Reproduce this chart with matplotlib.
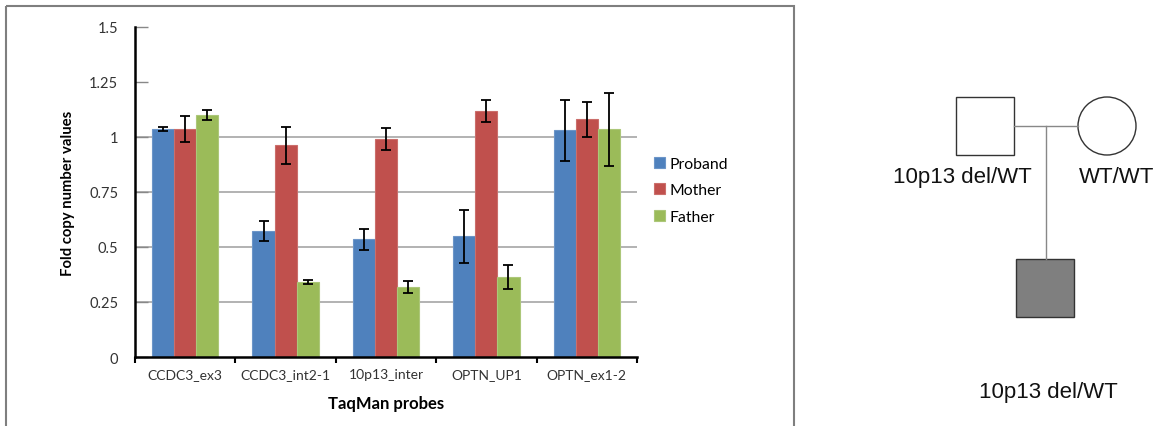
import numpy as np
import matplotlib
matplotlib.use('Agg')
import matplotlib.pyplot as plt
from matplotlib.patches import Rectangle, Circle

# valores
probes = ['CCDC3_ex3', 'CCDC3_int2-1', '10p13_inter', 'OPTN_UP1', 'OPTN_ex1-2']
series = ['Proband', 'Mother', 'Father']
proband = [1.036, 0.574, 0.535, 0.549, 1.030]
proband_err = [0.010, 0.045, 0.048, 0.120, 0.137]
mother = [1.036, 0.962, 0.990, 1.117, 1.080]
mother_err = [0.060, 0.085, 0.050, 0.050, 0.080]
father = [1.100, 0.340, 0.317, 0.364, 1.035]
father_err = [0.025, 0.010, 0.027, 0.054, 0.165]
yticks = [0, 0.25, 0.5, 0.75, 1, 1.25, 1.5]
ytick_labels = ['0', '0.25', '0.5', '0.75', '1', '1.25', '1.5']

colors = ['#4F81BD', '#C0504D', '#9BBB59']
edges = ['#6C95C8', '#CB6E6B', '#ACC779']

W, H = 1161, 427
fig = plt.figure(figsize=(W / 100, H / 100), dpi=100)

# camada de fundo em pixels: moldura e heredograma
bg = fig.add_axes([0, 0, 1, 1])
bg.set_xlim(0, W)
bg.set_ylim(H, 0)
bg.axis('off')
bg.add_patch(Rectangle((6, 7), 788, 440, fill=False, ec='#7F7F7F', lw=1.5))

ped_font = dict(family='Liberation Sans', fontsize=16, color='#111111')
bg.add_patch(Rectangle((956, 98), 58, 58, fc='white', ec='#333333', lw=1.0))
bg.add_patch(Circle((1107, 127), 29, fc='white', ec='#333333', lw=1.0))
bg.plot([1014, 1078], [127, 127], color='#888888', lw=1.0)
bg.plot([1046, 1046], [127, 260], color='#888888', lw=1.0)
bg.add_patch(Rectangle((1016, 260), 58, 58, fc='#7F7F7F', ec='#333333', lw=1.0))
bg.text(962, 178, '10p13 del/WT', ha='center', va='center', **ped_font)
bg.text(1117, 178, 'WT/WT', ha='center', va='center', **ped_font)
bg.text(1048, 393, '10p13 del/WT', ha='center', va='center', **ped_font)

# grafico de barras
ax = fig.add_axes([135 / W, 1 - 358 / H, 502 / W, 330 / H])
ax.patch.set_alpha(0)
x = np.arange(len(probes))
width = 0.22
vals = [proband, mother, father]
errs = [proband_err, mother_err, father_err]
for i, (v, e) in enumerate(zip(vals, errs)):
    ax.bar(x + (i - 1) * width, v, width, color=colors[i], edgecolor=edges[i],
           linewidth=0.8, label=series[i], zorder=2)
    ax.errorbar(x + (i - 1) * width, v, yerr=e, fmt='none', ecolor='black',
                elinewidth=1.3, capsize=3.5, capthick=1.3, zorder=3)

ax.set_xlim(-0.5, len(probes) - 0.5)
ax.set_ylim(0, 1.5)
ax.set_yticks(yticks)
ax.set_yticklabels(ytick_labels, family='Lato', fontsize=10.5, color='#333333')
ax.set_xticks(x)
ax.set_xticklabels(probes, family='Lato', fontsize=10, color='#333333')
ax.set_xticks(np.arange(-0.5, len(probes)), minor=True)
ax.tick_params(axis='x', which='major', length=0, pad=8)
ax.tick_params(axis='x', which='minor', direction='out', length=4, width=1.5)
ax.tick_params(axis='y', direction='in', length=9, width=1.0, color='#888888', pad=12)

for t in yticks:
    if 0 < t <= 1:
        ax.axhline(t, color='#A6A6A6', lw=1.2, zorder=1)

for s in ['top', 'right']:
    ax.spines[s].set_visible(False)
for s in ['left', 'bottom']:
    ax.spines[s].set_linewidth(1.8)
    ax.spines[s].set_color('black')
    ax.spines[s].set_zorder(4)

ax.set_ylabel('Fold copy number values', family='Lato', fontsize=10.7, fontweight='bold')
ax.yaxis.set_label_coords(-0.12, 0.5)
ax.set_xlabel('TaqMan probes', family='Lato', fontsize=12, fontweight='bold')
ax.xaxis.set_label_coords(0.5, -0.115)

ax.legend(loc='center left', bbox_to_anchor=(1.005, 0.505), frameon=False,
          prop={'family': 'Lato', 'size': 11.3}, handlelength=0.7, handleheight=0.7,
          handletextpad=0.3, labelspacing=0.8)

fig.savefig('out.png', dpi=100)
